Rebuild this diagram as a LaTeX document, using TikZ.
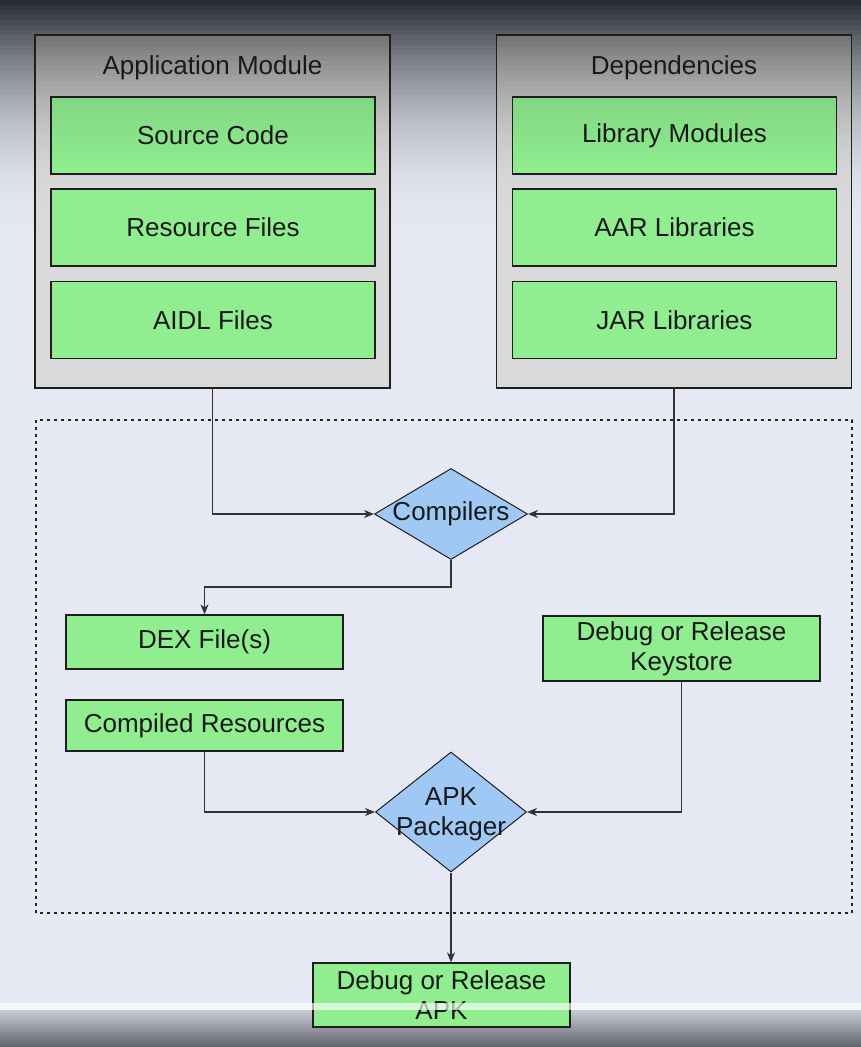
\documentclass[tikz,border=0pt]{standalone}
\usepackage{fontspec}
\setmainfont{Liberation Sans}
\usetikzlibrary{shapes.geometric,arrows.meta}
\definecolor{bgcol}{HTML}{E6E9F3}
\definecolor{topdark}{HTML}{2B2D34}
\definecolor{barlight}{HTML}{C9CCD3}
\definecolor{bardark}{HTML}{5F626B}
\definecolor{partgreen}{HTML}{90EE90}
\definecolor{modgray}{HTML}{D9D9D9}
\definecolor{modtop}{HTML}{767676}
\definecolor{stepblue}{HTML}{9FC8F5}
\definecolor{edgecol}{HTML}{1E1E1E}

\begin{document}
\begin{tikzpicture}[x=1pt,y=1pt,
  every node/.style={font=\fontsize{26}{30}\selectfont, text=black!90},
  module/.style={draw=edgecol,line width=1.3pt,fill=modgray,minimum width=355pt,minimum height=353pt,inner sep=0pt},
  part/.style={draw=edgecol,line width=1.3pt,fill=partgreen,minimum width=324pt,minimum height=77pt,inner sep=0pt,align=center},
  toppart/.style={part,top color=partgreen!90!black,bottom color=partgreen},
  product/.style={draw=edgecol,line width=1.3pt,fill=partgreen,minimum width=277pt,inner sep=0pt,align=center},
  tool/.style={diamond,draw=edgecol,line width=1pt,fill=stepblue,inner sep=0pt},
  conn/.style={draw=black!80,line width=1.2pt,-{Stealth[length=10pt,width=8pt,inset=3pt]}},
  dotbox/.style={draw=black!85,line width=1.2pt,dash pattern=on 3pt off 4pt}]
  \useasboundingbox[fill=bgcol] (0,-1047) rectangle (861,0);
  % dark band of the player at the top
  \foreach \i in {0,...,45} {
    \pgfmathtruncatemacro\t{100*(1-(1-\i/46)^2)}
    \fill[bgcol!\t!topdark] (0,-\i*5) rectangle (861,-\i*5-5.5);
  }
  \fill[top color=barlight,bottom color=bardark] (0,-1047) rectangle (861,-1010);
  % inputs
  \node[module] (appmod) at (212.5,-211.5) {};
  \node[module] (deps) at (674,-211.5) {};
  \foreach \m in {appmod,deps} {
    \foreach \i in {0,...,32} {
      \pgfmathtruncatemacro\t{100*(1-(1-\i/33)^2)}
      \fill[modgray!\t!modtop] ([shift={(1.4,-\i*5-1.4)}]\m.north west) rectangle ([shift={(-1.4,-\i*5-6.9)}]\m.north east);
    }
  }
  \node (apptitle) at (212.5,-68) {Application Module};
  \node[toppart] (src) at (213,-135.5) {Source Code};
  \node[part] (res) at (213,-227.5) {Resource Files};
  \node[part] (aidl) at (213,-320) {AIDL Files};
  \node (depstitle) at (674,-68) {Dependencies};
  \node[toppart] (libmod) at (674.5,-135.5) {Library Modules};
  \node[part] (aar) at (674.5,-227.5) {AAR Libraries};
  \node[part] (jar) at (674.5,-320) {JAR Libraries};
  % build steps
  \draw[dotbox] (36,-913) rectangle (852,-420);
  \node[tool,minimum width=153pt,minimum height=91pt] (comp) at (451,-514) {};
  \node (comptext) at (comp.center) {Compilers};
  \node[product,minimum height=54pt] (dex) at (204.5,-642) {DEX File(s)};
  \node[product,minimum height=51pt] (cres) at (204.5,-725.5) {Compiled Resources};
  \node[product,minimum height=65pt] (keys) at (681.5,-648.5) {Debug or Release\\Keystore};
  \node[tool,minimum width=151pt,minimum height=120pt] (pack) at (451,-812) {};
  \node[align=center] (packtext) at (451,-814) {APK\\Packager};
  \node[product,minimum width=257pt,minimum height=64pt] (apk) at (441.5,-995) {Debug or Release\\APK};
  \draw[conn] (appmod.south) |- (comp.west);
  \draw[conn] (deps.south) |- (comp.east);
  \draw[conn] (comp.south) -- ++(0,-27) -| (dex.north);
  \draw[conn] (cres.south) |- (pack.west);
  \draw[conn] (keys.south) |- (pack.east);
  \draw[conn] (pack.south) -- (pack.south |- apk.north);
  % player strip
  \fill[white,opacity=0.65] (0,-1010) rectangle (861,-1003);
\end{tikzpicture}
\end{document}
